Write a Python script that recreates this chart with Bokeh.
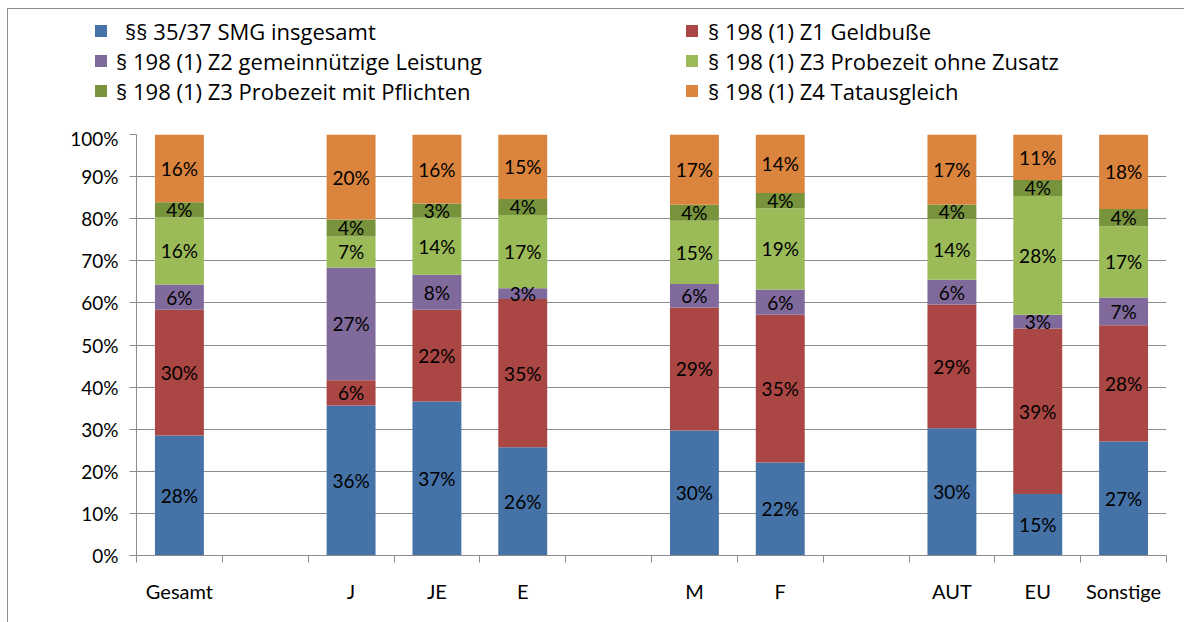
import numpy as np
from bokeh.plotting import figure
from bokeh.layouts import column
from bokeh.models import (ColumnDataSource, FactorRange, Range1d, LinearAxis, FixedTicker,
                          PrintfTickFormatter, Legend, LegendItem)
from bokeh.core.properties import value
from bokeh.embed import file_html
from bokeh.resources import INLINE

# ---- data ----
slots = ["Gesamt", "", "J", "JE", "E", " ", "M", "F", "  ", "AUT", "EU", "Sonstige"]
categories = ["Gesamt", "J", "JE", "E", "M", "F", "AUT", "EU", "Sonstige"]

smg = [28.5, 35.6, 36.6, 25.7, 29.7, 22.1, 30.2, 14.6, 27.1]
geldbusse = [29.9, 6.0, 21.8, 35.2, 29.2, 35.1, 29.4, 39.3, 27.6]
gemeinnuetzig = [6.0, 26.8, 8.3, 2.6, 5.6, 6.0, 5.9, 3.3, 6.6]
probezeit_ohne = [15.9, 7.4, 13.5, 17.4, 15.0, 19.3, 14.3, 28.2, 16.9]
probezeit_mit = [3.6, 4.0, 3.4, 3.8, 3.8, 3.6, 3.6, 3.8, 4.1]
tatausgleich = [16.1, 20.2, 16.4, 15.3, 16.7, 13.9, 16.6, 10.8, 17.7]

series_keys = ["smg", "geld", "gem", "pro", "prm", "tat"]
series_labels = ["§§ 35/37 SMG insgesamt", "§ 198 (1) Z1 Geldbuße",
                 "§ 198 (1) Z2 gemeinnützige Leistung", "§ 198 (1) Z3 Probezeit ohne Zusatz",
                 "§ 198 (1) Z3 Probezeit mit Pflichten", "§ 198 (1) Z4 Tatausgleich"]
colors = ["#4572A7", "#AA4643", "#80699B", "#9BBB59", "#77933C", "#DB843D"]
y_ticks = [0, 10, 20, 30, 40, 50, 60, 70, 80, 90, 100]

series_values = [smg, geldbusse, gemeinnuetzig, probezeit_ohne, probezeit_mit, tatausgleich]

FONT = "Lato"
LEGEND_FONT = "Open Sans"
GRID = "#8c8c8c"
BORDER = "#8c8c8c"

data = {"cat": categories}
for k, v in zip(series_keys, series_values):
    data[k] = v
source = ColumnDataSource(data)

# ---------- legend strip ----------
LH = 117
lf = figure(width=1176, height=LH, x_range=FactorRange(*slots), y_range=Range1d(0, 1),
            output_backend="svg", toolbar_location=None,
            x_axis_location=None, y_axis_location=None,
            min_border_left=0, min_border_right=0, min_border_top=0, min_border_bottom=0)
lf.frame_align = False
lf.outline_line_color = None
lf.grid.visible = False
proxies = lf.vbar_stack(series_keys, x="cat", width=0.57, source=source,
                        color=colors, line_color=None)
for r in proxies:
    r.visible = False

def make_legend(idx, loc, standoff):
    lg = Legend(items=[LegendItem(label=series_labels[i], renderers=[proxies[i]]) for i in idx],
                location=loc, orientation="vertical", label_standoff=standoff,
                glyph_width=15, glyph_height=15, label_height=30, spacing=0, padding=0, margin=0,
                label_text_font=LEGEND_FONT, label_text_font_size="22px", label_text_color="black",
                border_line_color=None, background_fill_alpha=0, inactive_fill_alpha=0,
                click_policy="none")
    lf.add_layout(lg)

make_legend([0], (85, 80.5), 17)
make_legend([2, 4], (85, 20.5), 8)
make_legend([1, 3, 5], (676, 20.5), 9)

# ---------- main chart ----------
p = figure(width=1176, height=622 - 9 - LH, x_range=FactorRange(*slots), y_range=Range1d(0, 100),
           output_backend="svg", toolbar_location=None, x_axis_location=None,
           min_border_left=128, min_border_right=18, min_border_top=8, min_border_bottom=67)
p.frame_align = False
p.outline_line_color = None

renderers = p.vbar_stack(series_keys, x="cat", width=0.57, source=source,
                         color=colors, line_color=None)

# data labels
arr = np.array(series_values)
tops = np.cumsum(arr, axis=0)
mids = tops - arr / 2
lx, ly, lt = [], [], []
for s in range(arr.shape[0]):
    for c, cat in enumerate(categories):
        lx.append(cat)
        ly.append(mids[s, c])
        lt.append(f"{int(round(arr[s, c]))}%")
p.text(x=lx, y=ly, text=lt, text_align="center", text_baseline="middle",
       text_font=value(FONT), text_font_size="19px", text_color="black")

# y axis
yax = p.yaxis[0]
yax.ticker = FixedTicker(ticks=y_ticks)
yax.formatter = PrintfTickFormatter(format="%d%%")
yax.major_tick_out = 7
yax.major_tick_in = 0
yax.minor_tick_out = 0
yax.minor_tick_in = 0
yax.axis_line_color = GRID
yax.major_tick_line_color = GRID
yax.major_label_standoff = 11
yax.major_label_text_font = FONT
yax.major_label_text_font_size = "19px"
yax.major_label_text_color = "black"
p.ygrid.grid_line_color = GRID
p.ygrid.ticker = FixedTicker(ticks=y_ticks)
p.xgrid.visible = False

# x axis: boundary ticks and centred labels (synthetic factor coordinates)
centers = [i + 0.5 for i, s in enumerate(slots) if s.strip()]
overrides = {i + 0.5: s for i, s in enumerate(slots) if s.strip()}
xax = LinearAxis(ticker=FixedTicker(ticks=centers, minor_ticks=list(range(len(slots) + 1))))
xax.major_label_overrides = overrides
xax.major_tick_out = 0
xax.major_tick_in = 0
xax.minor_tick_out = 7
xax.minor_tick_in = 0
xax.minor_tick_line_color = GRID
xax.axis_line_color = GRID
xax.major_label_standoff = 16
xax.major_label_text_font = FONT
xax.major_label_text_font_size = "20px"
xax.major_label_text_color = "black"
p.add_layout(xax, "below")

layout = column(lf, p, spacing=0,
                styles={"margin-left": "7px", "margin-top": "8px",
                        "border-left": f"1px solid {BORDER}", "border-top": f"1px solid {BORDER}"})

open("out.html", "w").write(file_html(layout, INLINE))
